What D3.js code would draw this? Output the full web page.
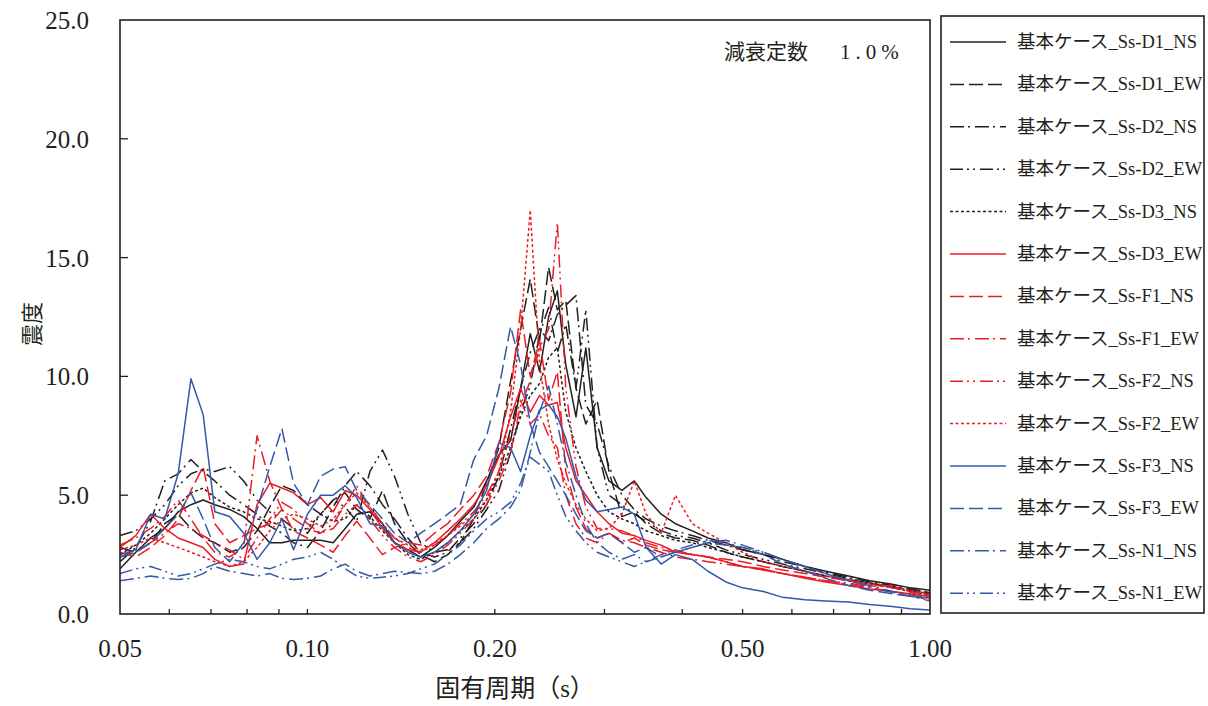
<!DOCTYPE html>
<html>
<head>
<meta charset="utf-8">
<script src="https://cdn.jsdelivr.net/npm/d3@7"></script>
<style>
  body { margin: 0; background: #fff; }
  svg { display: block; }
  .serif { font-family: "Liberation Serif", "Noto Sans CJK JP", serif; fill: #231f20; }
</style>
</head>
<body>
<script>
// Natural period (s), shared by every curve
var periods = [0.050,0.053,0.056,0.059,0.062,0.065,0.068,0.071,0.075,0.079,0.083,0.087,0.091,0.095,
  0.100,0.105,0.110,0.115,0.120,0.126,0.132,0.138,0.145,0.152,0.160,
  0.168,0.176,0.185,0.194,0.203,0.212,0.220,0.228,0.236,0.244,0.252,0.260,0.270,0.280,0.292,0.305,
  0.320,0.335,0.350,0.370,0.390,0.415,0.440,0.470,0.500,0.540,0.580,0.630,0.680,0.740,0.800,0.870,0.930,1.000];

// Seismic intensity per period, one array per wave
var d1NS = [1.9,2.6,3.2,3.6,4.3,4.6,4.8,4.6,4.4,4.1,3.6,3.0,3.0,3.1,
  3.1,3.1,3.0,3.6,4.2,4.3,3.8,3.0,2.7,2.4,2.8,
  3.3,3.9,4.5,5.6,6.7,7.3,9.5,11.8,10.2,12.5,13.6,10.5,8.3,11.2,7.0,5.6,
  5.2,5.6,4.9,4.2,3.8,3.5,3.2,3.0,2.7,2.5,2.3,2.0,1.8,1.6,1.4,1.25,1.1,1.0];
var d1EW = [2.8,2.6,3.0,3.8,4.2,3.6,3.2,3.0,2.6,2.8,3.5,4.5,5.4,5.2,
  4.6,4.2,4.8,5.1,4.4,4.0,5.2,3.8,3.0,2.5,2.2,
  2.5,3.0,4.0,5.5,7.0,9.8,12.0,14.1,11.5,14.6,12.8,13.2,9.5,8.0,9.0,6.0,
  4.1,4.3,3.8,3.4,3.2,3.1,2.9,2.6,2.4,2.2,2.0,1.8,1.6,1.45,1.3,1.15,1.0,0.9];
var d2NS = [2.2,2.8,3.9,5.6,5.9,6.5,6.0,5.6,5.0,4.6,4.2,3.7,3.4,3.0,
  2.8,3.5,4.5,5.4,6.0,5.4,4.6,4.0,3.2,2.6,2.4,
  2.6,3.2,3.8,4.6,5.8,7.8,9.5,11.0,12.0,11.5,12.6,13.0,13.4,8.8,8.0,6.2,
  5.0,4.4,4.0,3.7,3.5,3.3,3.1,2.9,2.7,2.5,2.2,2.0,1.75,1.55,1.35,1.2,1.05,0.9];
var d2EW = [3.3,3.5,4.0,4.6,5.4,5.9,6.1,6.0,6.2,5.6,4.8,4.3,4.0,3.6,
  3.4,4.2,4.8,4.5,3.9,6.0,6.9,5.8,4.2,3.0,2.6,
  2.7,3.0,3.6,4.4,5.2,6.8,8.5,9.6,11.8,12.9,11.0,12.2,9.5,12.8,7.0,5.0,
  4.6,4.2,3.9,3.5,3.3,3.2,3.0,2.7,2.5,2.3,2.1,1.9,1.7,1.5,1.3,1.15,1.0,0.85];
var d3NS = [2.5,2.9,3.4,4.0,4.6,5.1,5.3,4.9,4.5,4.3,4.0,3.9,3.7,3.5,
  3.6,4.2,3.9,4.0,4.6,4.1,3.5,3.0,2.5,2.3,2.6,
  3.0,3.5,4.0,4.8,5.8,7.0,8.3,9.2,9.7,10.8,11.2,8.5,7.0,6.0,5.0,4.3,
  4.0,3.8,3.5,3.3,3.1,3.0,2.8,2.6,2.4,2.2,2.0,1.8,1.6,1.4,1.25,1.1,0.95,0.8];
var d3EW = [2.8,3.3,4.2,3.6,3.2,3.0,2.8,2.3,2.0,2.1,4.6,5.5,5.3,5.1,
  4.6,4.9,4.3,5.2,5.0,4.4,3.6,3.0,2.7,2.6,3.0,
  3.5,4.0,4.6,5.4,6.6,8.3,9.5,8.5,9.2,8.8,8.9,7.0,5.6,5.0,4.3,3.8,
  3.4,3.3,3.1,2.9,2.6,2.5,2.4,2.2,2.0,1.9,1.7,1.5,1.35,1.2,1.05,0.95,0.85,0.75];
var f1NS = [2.6,2.4,2.8,3.3,4.0,5.2,6.2,3.8,3.0,3.3,3.6,3.8,4.4,3.5,
  3.2,2.9,2.6,3.3,3.9,3.2,2.5,2.8,3.0,2.9,3.4,
  3.8,4.4,5.0,5.8,7.2,9.3,12.8,10.0,11.5,9.0,10.2,6.0,4.5,3.6,3.2,3.4,
  3.0,3.2,2.9,2.7,2.6,2.5,2.4,2.3,2.2,2.0,1.85,1.7,1.55,1.4,1.25,1.1,0.95,0.8];
var f1EW = [2.9,3.2,3.6,4.1,4.8,4.0,3.2,2.6,2.4,2.8,7.5,5.6,4.4,4.0,
  3.6,3.4,3.8,4.6,5.4,4.5,3.8,3.2,2.8,2.6,2.9,
  3.3,3.8,4.3,5.0,6.0,7.5,9.0,8.0,8.4,7.5,7.0,5.0,3.8,3.2,3.0,3.4,
  3.1,3.0,2.8,2.6,2.4,2.3,2.2,2.1,2.0,1.85,1.7,1.55,1.4,1.25,1.1,0.95,0.75,0.55];
var f2NS = [2.4,2.7,3.0,3.4,3.8,3.6,3.3,3.0,2.7,2.3,3.2,4.0,4.7,4.4,
  3.8,3.4,3.6,4.2,4.6,4.0,3.3,2.8,2.4,2.2,2.5,
  2.9,3.4,4.0,4.6,5.6,6.8,8.8,9.8,11.2,12.0,16.5,9.5,6.2,4.5,3.6,3.6,
  3.5,3.3,3.0,2.8,2.7,2.5,2.4,2.2,2.0,1.85,1.7,1.55,1.4,1.3,1.15,1.2,0.9,0.7];
var f2EW = [2.7,2.9,3.2,3.0,2.8,2.6,2.4,2.2,2.0,2.2,2.8,3.5,4.0,4.2,
  4.0,3.7,4.0,4.6,5.1,4.5,3.8,3.2,2.9,2.7,3.0,
  3.3,3.7,4.2,4.8,6.0,8.5,12.0,17.0,10.5,8.0,6.5,5.5,4.6,4.0,3.5,3.6,
  4.2,5.6,4.2,3.4,5.0,3.8,3.4,3.0,2.6,2.2,2.0,1.8,1.6,1.45,1.3,1.15,1.0,0.85];
var f3NS = [2.5,2.7,4.2,4.0,5.9,9.9,8.4,4.3,4.1,3.4,2.3,3.0,4.0,2.7,
  4.2,5.0,5.0,5.4,4.9,3.8,3.7,3.0,2.6,2.4,2.6,
  3.0,3.5,4.2,5.2,7.2,7.0,6.0,7.5,8.6,8.8,8.3,7.4,5.8,4.8,4.3,4.4,
  4.5,4.2,2.8,2.1,2.5,2.3,1.8,1.35,1.1,0.95,0.7,0.6,0.55,0.5,0.4,0.32,0.22,0.17];
var f3EW = [2.4,2.6,3.0,3.6,4.2,5.1,4.0,2.8,2.2,3.0,4.4,6.2,7.8,5.5,
  4.6,5.8,6.1,6.2,5.2,4.6,4.0,3.4,3.0,3.4,3.8,
  4.2,4.6,6.5,7.5,9.5,12.1,10.5,8.0,6.8,6.2,5.6,5.0,4.2,3.5,3.2,3.4,
  3.0,2.6,2.8,2.4,2.6,2.8,3.0,2.9,2.8,2.5,2.1,1.8,1.5,1.2,1.0,0.85,0.75,0.68];
var n1NS = [1.4,1.5,1.6,1.5,1.45,1.5,1.7,2.0,1.8,1.7,1.6,1.7,1.5,1.45,
  1.5,1.6,1.9,2.1,1.8,1.6,1.7,1.8,1.75,1.7,1.8,
  2.1,2.5,3.0,3.6,4.0,4.5,5.2,6.8,8.5,9.6,8.0,6.4,5.0,3.8,3.0,2.6,
  2.3,2.5,2.2,2.4,2.6,2.8,3.0,3.1,2.9,2.6,2.3,2.0,1.7,1.4,1.2,0.95,0.8,0.65];
var n1EW = [1.7,1.9,2.0,1.8,1.6,1.7,1.9,2.1,2.3,2.2,2.0,1.9,2.1,2.3,
  2.4,2.6,2.3,1.9,1.6,1.5,1.55,1.6,1.7,1.9,2.1,
  2.5,2.9,3.5,4.0,4.3,4.7,5.5,6.6,6.3,6.0,5.0,4.1,3.5,3.0,2.6,2.4,
  2.2,2.0,2.2,2.5,2.7,2.9,3.1,3.0,2.8,2.6,2.3,2.0,1.7,1.4,1.15,0.9,0.75,0.62];

var seriesNames = ["基本ケース_Ss-D1_NS","基本ケース_Ss-D1_EW","基本ケース_Ss-D2_NS","基本ケース_Ss-D2_EW",
  "基本ケース_Ss-D3_NS","基本ケース_Ss-D3_EW","基本ケース_Ss-F1_NS","基本ケース_Ss-F1_EW",
  "基本ケース_Ss-F2_NS","基本ケース_Ss-F2_EW","基本ケース_Ss-F3_NS","基本ケース_Ss-F3_EW",
  "基本ケース_Ss-N1_NS","基本ケース_Ss-N1_EW"];
var seriesValues = [d1NS, d1EW, d2NS, d2EW, d3NS, d3EW, f1NS, f1EW, f2NS, f2EW, f3NS, f3EW, n1NS, n1EW];

var xTicks = [0.05, 0.1, 0.2, 0.5, 1.0];
var xMinor = [0.06,0.07,0.08,0.09,0.1,0.2,0.3,0.4,0.5,0.6,0.7,0.8,0.9];
var yTicks = [0, 5, 10, 15, 20, 25];

// line styles
var BLACK = "#231f20", RED = "#ec1c24", BLUE = "#3558a8";
var DASH = {
  solid: null,
  dash: "14,5",
  dashDot: "14,4,2,5",
  dashDotDot: "13,4,2,4,2,5",
  dot: "3,2.5"
};
var styles = [
  [BLACK, "solid"], [BLACK, "dash"], [BLACK, "dashDot"], [BLACK, "dashDotDot"], [BLACK, "dot"],
  [RED, "solid"], [RED, "dash"], [RED, "dashDot"], [RED, "dashDotDot"], [RED, "dot"],
  [BLUE, "solid"], [BLUE, "dash"], [BLUE, "dashDot"], [BLUE, "dashDotDot"]
];

var width = 1208, height = 706;
var plot = {left: 120, right: 930, top: 20, bottom: 614};

var svg = d3.select("body").append("svg")
  .attr("width", width)
  .attr("height", height);

var x = d3.scaleLog().domain([0.05, 1.0]).range([plot.left, plot.right]);
var y = d3.scaleLinear().domain([0, 25]).range([plot.bottom, plot.top]);

// clip so nothing bleeds over the frame
svg.append("clipPath").attr("id", "clip")
  .append("rect")
  .attr("x", plot.left).attr("y", plot.top)
  .attr("width", plot.right - plot.left).attr("height", plot.bottom - plot.top);

var line = d3.line()
  .x(function (d) { return x(d[0]); })
  .y(function (d) { return y(d[1]); });

var curves = svg.append("g").attr("clip-path", "url(#clip)");
seriesValues.forEach(function (vals, i) {
  var pts = periods.map(function (p, k) { return [p, vals[k]]; });
  curves.append("path")
    .attr("d", line(pts))
    .attr("fill", "none")
    .attr("stroke", styles[i][0])
    .attr("stroke-width", 1.5)
    .attr("stroke-linejoin", "round")
    .attr("stroke-dasharray", DASH[styles[i][1]]);
});

// frame
svg.append("rect")
  .attr("x", plot.left).attr("y", plot.top)
  .attr("width", plot.right - plot.left).attr("height", plot.bottom - plot.top)
  .attr("fill", "none").attr("stroke", BLACK).attr("stroke-width", 1.6);

// x ticks (inside, upward)
svg.append("g").selectAll("line").data(xMinor).enter().append("line")
  .attr("x1", function (d) { return x(d); }).attr("x2", function (d) { return x(d); })
  .attr("y1", plot.bottom).attr("y2", plot.bottom - 5)
  .attr("stroke", BLACK).attr("stroke-width", 1.3);

// y ticks (inside, rightward)
svg.append("g").selectAll("line").data(yTicks.slice(1, -1)).enter().append("line")
  .attr("x1", plot.left).attr("x2", plot.left + 8)
  .attr("y1", function (d) { return y(d); }).attr("y2", function (d) { return y(d); })
  .attr("stroke", BLACK).attr("stroke-width", 1.3);

// tick labels
svg.append("g").selectAll("text").data(xTicks).enter().append("text")
  .attr("class", "serif")
  .attr("x", function (d) { return x(d); })
  .attr("y", 657)
  .attr("text-anchor", "middle")
  .style("font-size", "25px")
  .text(function (d) { return d.toFixed(2); });

svg.append("g").selectAll("text").data(yTicks).enter().append("text")
  .attr("class", "serif")
  .attr("x", 89)
  .attr("y", function (d) { return y(d) + 9; })
  .attr("text-anchor", "end")
  .style("font-size", "25px")
  .text(function (d) { return d.toFixed(1); });

// axis titles
svg.append("text")
  .attr("class", "serif")
  .attr("x", 515).attr("y", 697)
  .attr("text-anchor", "middle")
  .style("font-size", "25px")
  .text("固有周期（s）");

svg.append("text")
  .attr("class", "serif")
  .attr("transform", "translate(40,324) rotate(-90)")
  .attr("text-anchor", "middle")
  .style("font-size", "22px")
  .text("震度");

// damping note
var note = svg.append("text")
  .attr("class", "serif")
  .attr("y", 59)
  .style("font-size", "21px");
note.append("tspan").attr("x", 724).text("減衰定数");
note.append("tspan").attr("x", 840)
  .style("letter-spacing", "5px")
  .text("1.0%");

// legend
var legend = svg.append("g");
legend.append("rect")
  .attr("x", 941).attr("y", 16)
  .attr("width", 263).attr("height", 597)
  .attr("fill", "none").attr("stroke", BLACK).attr("stroke-width", 1.6);

var rows = legend.selectAll("g.row").data(seriesNames).enter().append("g")
  .attr("class", "row")
  .attr("transform", function (d, i) { return "translate(0," + (42 + i * 42.4) + ")"; });

rows.append("line")
  .attr("x1", 950).attr("x2", 1006)
  .attr("stroke", function (d, i) { return styles[i][0]; })
  .attr("stroke-width", 1.5)
  .attr("stroke-dasharray", function (d, i) { return DASH[styles[i][1]]; });

rows.append("text")
  .attr("class", "serif")
  .attr("x", 1017).attr("y", 6)
  .style("font-size", "18.5px")
  .text(function (d) { return d; });
</script>
</body>
</html>
